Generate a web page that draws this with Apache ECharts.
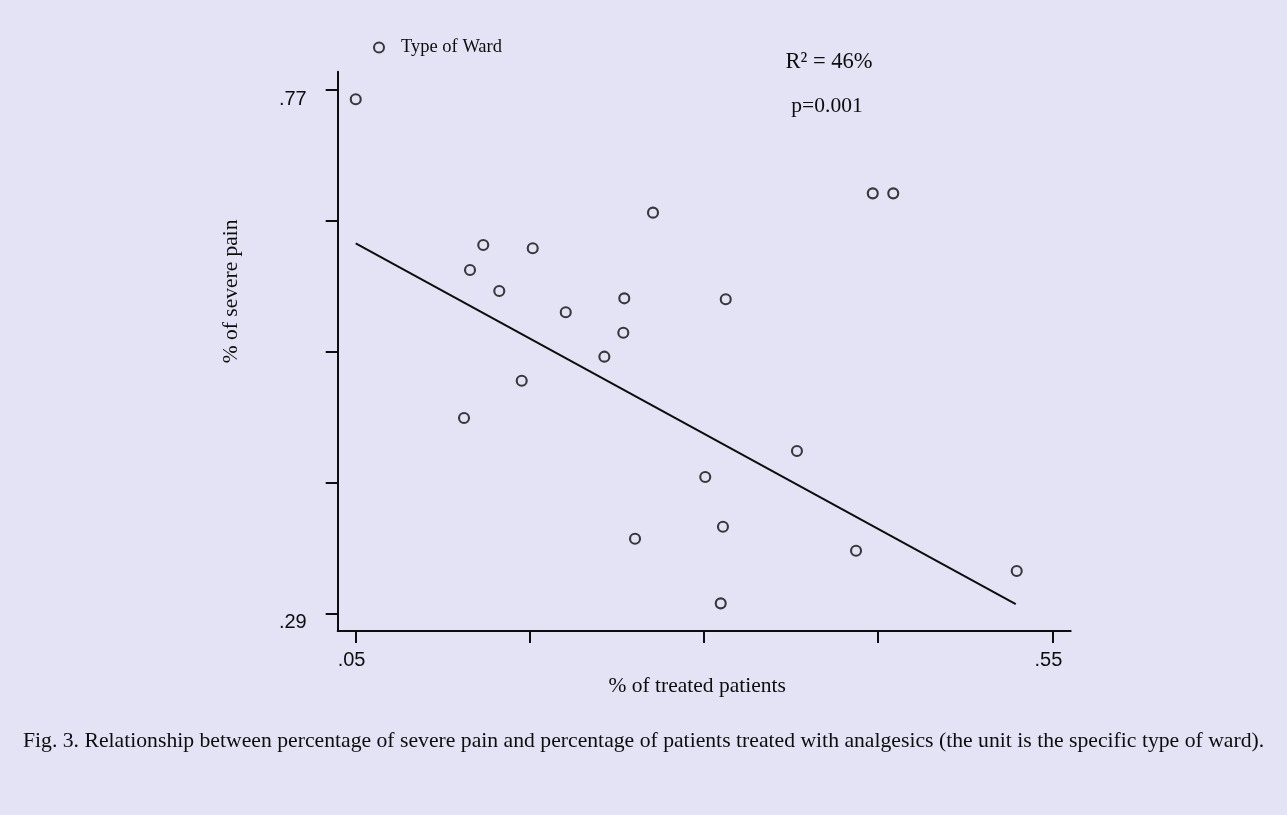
<!DOCTYPE html>
<html>
<head>
<meta charset="utf-8">
<script src="https://cdn.jsdelivr.net/npm/echarts@6/dist/echarts.min.js"></script>
<style>
html,body{margin:0;padding:0;background:#e4e3f5;}
#chart{width:1287px;height:815px;}
</style>
</head>
<body>
<div id="chart"></div>
<script>
// Data
const pctTreated = [0.0501,0.1278,0.1321,0.1416,0.1531,0.1692,0.1771,0.2008,0.2285,0.2421,0.2428,0.2634,0.2505,0.3009,0.3136,0.3120,0.3156,0.3667,0.4091,0.4211,0.4358,0.5244];
const pctSeverePain = [0.7615,0.4691,0.6049,0.6278,0.5856,0.5033,0.6248,0.5661,0.5254,0.5474,0.5789,0.6575,0.3584,0.4150,0.3694,0.2991,0.5780,0.4389,0.3474,0.6752,0.6752,0.3288];
const fitX = [0.0501,0.5237];
const fitY = [0.6294,0.2983];
const xTickValues = [0.05,0.175,0.30,0.425,0.55];
const xLabelValues = [0.05,0.55];
const yTickValues = [0.29,0.41,0.53,0.65,0.77];
const yLabelValues = [0.29,0.77];
const seriesName = 'Type of Ward';
const xTitle = '% of treated patients';
const yTitle = '% of severe pain';
const r2Text = 'R² = 46%';
const pText = 'p=0.001';
const caption = 'Fig. 3. Relationship between percentage of severe pain and percentage of patients treated with analgesics (the unit is the specific type of ward).';

const fmt = v => Number(v).toFixed(2).replace(/^0/, '');
const ink = '#0d0d0d';
const serif = '"Liberation Serif", "Times New Roman", serif';
const sans = '"Liberation Sans", Arial, sans-serif';

const chart = echarts.init(document.getElementById('chart'));
chart.setOption({
  backgroundColor: '#e4e3f5',
  animation: false,
  grid: {left: 337.7, right: 216.3, top: 71.7, bottom: 184, containLabel: false},
  legend: {
    left: 373, top: 38, padding: 0,
    itemWidth: 10, itemHeight: 10, itemGap: 10, itemStyle: {borderWidth: 2},
    data: [{name: seriesName, icon: 'circle'}],
    textStyle: {fontFamily: serif, fontSize: 18.5, color: ink, padding: [0,0,0,12]}
  },
  xAxis: {
    type: 'value', min: 0.03716, max: 0.56313,
    splitLine: {show: false},
    axisLine: {show: true, onZero: false, lineStyle: {color: ink, width: 2}},
    axisTick: {show: true, length: 12, inside: false, customValues: xTickValues, lineStyle: {color: ink, width: 2}},
    axisLabel: {show: true, customValues: xLabelValues, formatter: fmt, margin: 19, fontFamily: sans, fontSize: 20, color: ink, padding: [0,8,0,0]},
    name: xTitle, nameLocation: 'middle', nameGap: 44,
    nameTextStyle: {fontFamily: serif, fontSize: 21.5, color: ink, padding: [0,14,0,0]}
  },
  yAxis: {
    type: 'value', min: 0.27376, max: 0.78679,
    splitLine: {show: false},
    axisLine: {show: true, onZero: false, lineStyle: {color: ink, width: 2}},
    axisTick: {show: true, length: 12, inside: false, customValues: yTickValues, lineStyle: {color: ink, width: 2}},
    axisLabel: {show: true, customValues: yLabelValues, formatter: fmt, margin: 31, fontFamily: sans, fontSize: 20, color: ink, verticalAlign: 'top', lineHeight: 18},
    name: yTitle, nameLocation: 'middle', nameGap: 95, nameRotate: 90,
    nameTextStyle: {fontFamily: serif, fontSize: 21.5, color: ink, padding: [0,0,0,120]}
  },
  series: [
    {
      name: seriesName, type: 'scatter',
      symbol: 'circle', symbolSize: 10,
      itemStyle: {color: 'rgba(0,0,0,0)', borderColor: ink, borderWidth: 2.1},
      emphasis: {disabled: true},
      data: pctTreated.map((x, i) => [x, pctSeverePain[i]]),
      z: 3
    },
    {
      name: 'Fitted', type: 'line',
      showSymbol: false, symbol: 'none',
      lineStyle: {color: ink, width: 2},
      data: fitX.map((x, i) => [x, fitY[i]]),
      z: 2
    }
  ],
  graphic: [
    {type: 'text', style: {text: r2Text, x: 0, y: 0, font: '22.5px ' + serif, fill: ink, align: 'center', verticalAlign: 'middle'}, position: [829, 62]},
    {type: 'text', style: {text: pText, x: 0, y: 0, font: '21.5px ' + serif, fill: ink, align: 'center', verticalAlign: 'middle'}, position: [827, 106]},
    {type: 'text', style: {text: caption, x: 0, y: 0, font: '21.7px ' + serif, fill: ink, align: 'left', verticalAlign: 'middle'}, position: [23, 741]}
  ]
});
</script>
</body>
</html>
